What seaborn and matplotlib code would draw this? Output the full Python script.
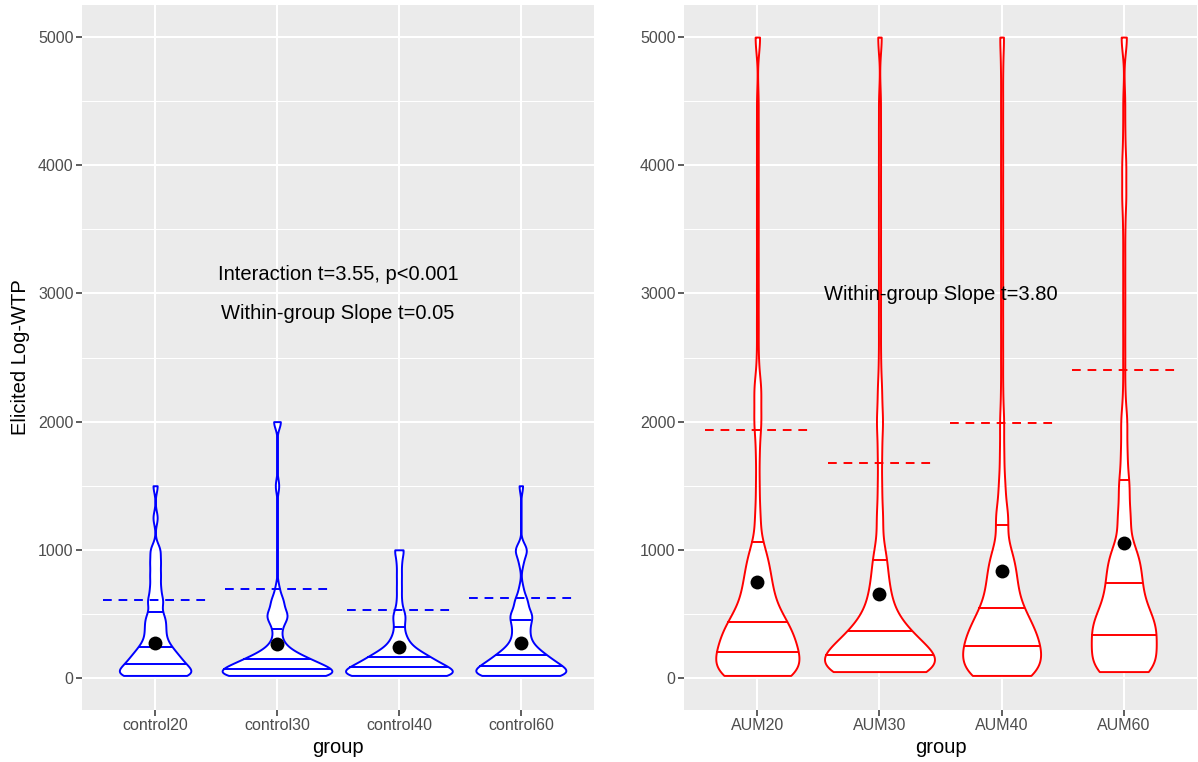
import numpy as np
import pandas as pd
import seaborn as sns
import matplotlib.pyplot as plt
from matplotlib.ticker import MultipleLocator
from matplotlib.collections import PolyCollection

# WTP answer levels and how many answers fell on each level, per group
wtp_levels = [20, 50, 100, 150, 200, 250, 300, 350, 400, 450, 500, 600,
              700, 800, 900, 1000, 1250, 1500, 1750, 2000, 2250, 2500, 2750,
              3000, 3250, 3500, 3750, 4000, 4250, 4500, 4750, 5000]

control_groups = ['control20', 'control30', 'control40', 'control60']
control_counts = [
    [9, 5, 6, 5, 4, 3, 2, 2, 2, 2, 2, 3, 2, 2, 2, 2, 1, 1,
     0, 0, 0, 0, 0, 0, 0, 0, 0, 0, 0, 0, 0, 0],
    [16, 11, 11, 8, 4, 2, 1, 1, 1, 2, 4, 3, 1, 0, 0, 0, 0, 1,
     0, 2, 0, 0, 0, 0, 0, 0, 0, 0, 0, 0, 0, 0],
    [14, 9, 9, 7, 5, 2, 2, 1, 1, 1, 2, 1, 1, 1, 1, 2, 0, 0,
     0, 0, 0, 0, 0, 0, 0, 0, 0, 0, 0, 0, 0, 0],
    [12, 9, 9, 7, 5, 3, 2, 2, 2, 2, 4, 3, 1, 0, 1, 3, 0, 1,
     0, 0, 0, 0, 0, 0, 0, 0, 0, 0, 0, 0, 0, 0],
]
control_quants = [[109, 241, 513], [70, 148, 381], [86, 163, 397], [93, 179, 451]]
control_means = [272, 264, 241, 272]
control_dash = [607, 692, 529, 622]

aum_groups = ['AUM20', 'AUM30', 'AUM40', 'AUM60']
aum_counts = [
    [20, 8, 9, 9, 9, 9, 9, 8, 8, 7, 7, 8, 7, 6, 5, 5, 3, 2,
     2, 4, 4, 1, 1, 1, 1, 1, 1, 1, 1, 1, 0, 3],
    [0, 24, 14, 12, 10, 9, 8, 6, 5, 4, 4, 5, 4, 3, 3, 3, 3, 2,
     2, 3, 2, 1, 1, 1, 1, 1, 1, 1, 1, 1, 0, 2],
    [14, 6, 7, 7, 8, 8, 8, 6, 6, 6, 7, 7, 6, 6, 5, 5, 6, 3,
     2, 2, 1, 1, 1, 1, 1, 1, 1, 1, 1, 1, 1, 2],
    [0, 14, 5, 6, 6, 6, 6, 6, 7, 7, 7, 8, 7, 7, 6, 7, 6, 5,
     3, 3, 1, 1, 1, 1, 1, 1, 2, 2, 1, 1, 0, 3],
]
aum_quants = [[202, 435, 1058], [179, 366, 918], [249, 544, 1190], [334, 739, 1547]]
aum_means = [746, 653, 832, 1050]
aum_dash = [1937, 1680, 1991, 2404]


def long_frame(groups, counts):
    rows = []
    for g, c in zip(groups, counts):
        vals = np.repeat(wtp_levels, c)
        rows.append(pd.DataFrame({'group': g, 'wtp': vals}))
    return pd.concat(rows, ignore_index=True)


def fixed_bw(bw):
    # kernel bandwidth in data units, handed to the kde as a factor of the sd
    return lambda kde: bw / kde.dataset[0].std(ddof=1)


sns.set_theme(style='darkgrid')
plt.rcParams['font.family'] = ['Liberation Sans', 'DejaVu Sans']
plt.rcParams['axes.facecolor'] = '#EBEBEB'

fig = plt.figure(figsize=(11.98, 7.62), dpi=100)
ax1 = fig.add_axes([0.0684, 0.0682, 0.4274, 0.9252])
ax2 = fig.add_axes([0.571, 0.0682, 0.4282, 0.9252])


def panel(ax, groups, counts, quants, means, dash, col, bw):
    df = long_frame(groups, counts)
    sns.violinplot(data=df, x='group', y='wtp', order=groups, ax=ax,
                   color='white', saturation=1, linecolor=col, linewidth=1.4,
                   inner=None, cut=0, width=0.9, bw_method=fixed_bw(bw),
                   gridsize=600)
    # quantile lines across each violin, at the width of the drawn outline
    polys = [c for c in ax.collections if isinstance(c, PolyCollection)]
    for i, (poly, qs) in enumerate(zip(polys, quants)):
        v = poly.get_paths()[0].vertices
        right = v[v[:, 0] >= i]
        o = np.argsort(right[:, 1])
        hw = np.interp(qs, right[o, 1], right[o, 0] - i)
        ax.hlines(qs, i - hw, i + hw, colors=col, linewidth=1.4, zorder=3)
    xs = np.arange(len(groups))
    ax.hlines(dash, xs - 0.425, xs + 0.425, colors=col, linewidth=1.4,
              linestyles=(0, (4.5, 3.5)), zorder=4)
    ax.scatter(xs, means, s=100, color='black', zorder=6, linewidths=0)

    ax.set_xlim(-0.6, 3.6)
    ax.set_ylim(-250, 5250)
    ax.yaxis.set_major_locator(MultipleLocator(1000))
    ax.yaxis.set_minor_locator(MultipleLocator(500))
    ax.grid(which='major', color='white', linewidth=1.5)
    ax.grid(which='minor', axis='y', color='white', linewidth=0.75)
    ax.set_axisbelow(True)
    for s in ax.spines.values():
        s.set_visible(False)
    ax.tick_params(axis='both', which='major', length=4, width=1.1,
                   color='#333333', labelcolor='#4D4D4D', labelsize=11.5,
                   pad=2, left=True, bottom=True)
    ax.tick_params(axis='y', which='minor', length=0)
    ax.set_xlabel('group', fontsize=14.5, color='black', labelpad=3)


panel(ax1, control_groups, control_counts, control_quants, control_means,
      control_dash, '#0000FF', 52)
panel(ax2, aum_groups, aum_counts, aum_quants, aum_means,
      aum_dash, '#FF0000', 122)

ax1.set_ylabel('Elicited Log-WTP', fontsize=14.5, color='black', labelpad=6)
ax2.set_ylabel('')

ax1.text(1.5, 3150, 'Interaction t=3.55, p<0.001', ha='center', va='center',
         fontsize=14.5, color='black')
ax1.text(1.5, 2846, 'Within-group Slope t=0.05', ha='center', va='center',
         fontsize=14.5, color='black')
ax2.text(1.5, 2994, 'Within-group Slope t=3.80', ha='center', va='center',
         fontsize=14.5, color='black')

fig.savefig('out.png', dpi=100)
